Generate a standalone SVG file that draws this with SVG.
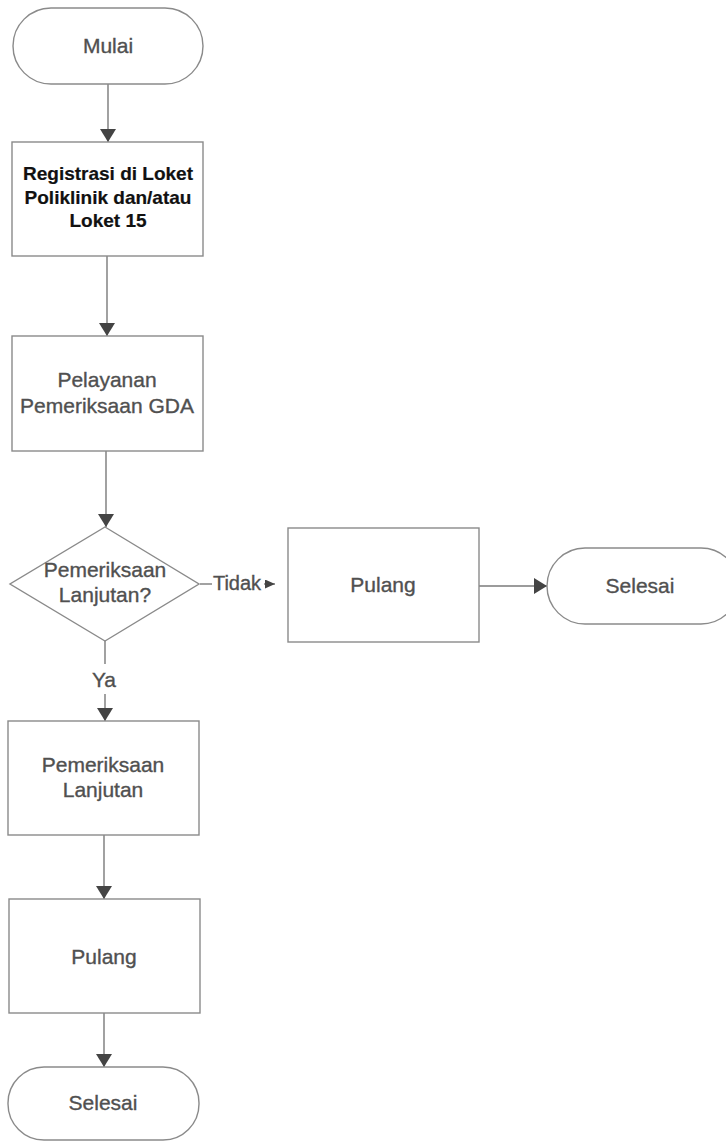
<svg xmlns="http://www.w3.org/2000/svg" width="726" height="1141" viewBox="0 0 726 1141">
<style>
.shape{fill:#ffffff;stroke:#8a8a8a;stroke-width:1.4}
.lbl{font-family:"Liberation Sans",Arial,sans-serif;font-size:21px;fill:#505050;stroke:#505050;stroke-width:0.35;text-anchor:middle}
.bold{font-weight:bold;fill:#111111;stroke:#111111;stroke-width:0.2;font-size:19px}
.conn{stroke:#7a7a7a;stroke-width:1.4;fill:none}
</style>
<defs>
<marker id="arr" markerWidth="13" markerHeight="16" refX="13" refY="8" orient="auto" markerUnits="userSpaceOnUse" viewBox="0 0 13 16">
<path d="M0,0 L13,8 L0,16 Z" fill="#444444"/>
</marker>
<marker id="arrs" markerWidth="10" markerHeight="9" refX="10" refY="4.5" orient="auto" markerUnits="userSpaceOnUse" viewBox="0 0 10 9">
<path d="M0,0 L10,4.5 L0,9 Z" fill="#444444"/>
</marker>
</defs>
<rect width="726" height="1141" fill="#ffffff"/>
<g id="connectors">
<line class="conn" x1="108" y1="84" x2="108" y2="142" marker-end="url(#arr)"/>
<line class="conn" x1="107" y1="256" x2="107" y2="336" marker-end="url(#arr)"/>
<line class="conn" x1="106" y1="451" x2="106" y2="527" marker-end="url(#arr)"/>
<line class="conn" x1="200" y1="584" x2="212" y2="584"/>
<text class="lbl" x="237" y="590" style="font-size:20px">Tidak</text>
<line class="conn" x1="264" y1="584" x2="275" y2="584" marker-end="url(#arrs)"/>
<line class="conn" x1="479" y1="586" x2="547" y2="586" marker-end="url(#arr)"/>
<line class="conn" x1="105" y1="641" x2="105" y2="664"/>
<text class="lbl" x="104" y="687">Ya</text>
<line class="conn" x1="105" y1="694" x2="105" y2="721" marker-end="url(#arr)"/>
<line class="conn" x1="104" y1="835" x2="104" y2="899" marker-end="url(#arr)"/>
<line class="conn" x1="104" y1="1013" x2="104" y2="1067" marker-end="url(#arr)"/>
</g>
<g id="mulai">
<rect class="shape" x="13" y="8" width="190" height="76" rx="38" ry="38"/>
<text class="lbl" x="108" y="53">Mulai</text>
</g>
<g id="registrasi">
<rect class="shape" x="12" y="142" width="191" height="114"/>
<text class="lbl bold" x="108" y="180">Registrasi di Loket</text>
<text class="lbl bold" x="108" y="204">Poliklinik dan/atau</text>
<text class="lbl bold" x="108" y="227">Loket 15</text>
</g>
<g id="pelayanan">
<rect class="shape" x="12" y="336" width="191" height="115"/>
<text class="lbl" x="107" y="387">Pelayanan</text>
<text class="lbl" x="107" y="413">Pemeriksaan GDA</text>
</g>
<g id="keputusan">
<polygon class="shape" points="105,527 199,584 105,641 10,584"/>
<text class="lbl" x="105" y="577">Pemeriksaan</text>
<text class="lbl" x="105" y="602">Lanjutan?</text>
</g>
<g id="pulang1">
<rect class="shape" x="288" y="528" width="191" height="114"/>
<text class="lbl" x="383" y="592">Pulang</text>
</g>
<g id="selesai1">
<rect class="shape" x="547" y="548" width="192" height="76" rx="38" ry="38"/>
<text class="lbl" x="640" y="593">Selesai</text>
</g>
<g id="lanjutan">
<rect class="shape" x="8" y="721" width="191" height="114"/>
<text class="lbl" x="103" y="772">Pemeriksaan</text>
<text class="lbl" x="103" y="797">Lanjutan</text>
</g>
<g id="pulang2">
<rect class="shape" x="9" y="899" width="191" height="114"/>
<text class="lbl" x="104" y="964">Pulang</text>
</g>
<g id="selesai2">
<rect class="shape" x="8" y="1067" width="191" height="73" rx="36" ry="36"/>
<text class="lbl" x="103" y="1110">Selesai</text>
</g>
</svg>
